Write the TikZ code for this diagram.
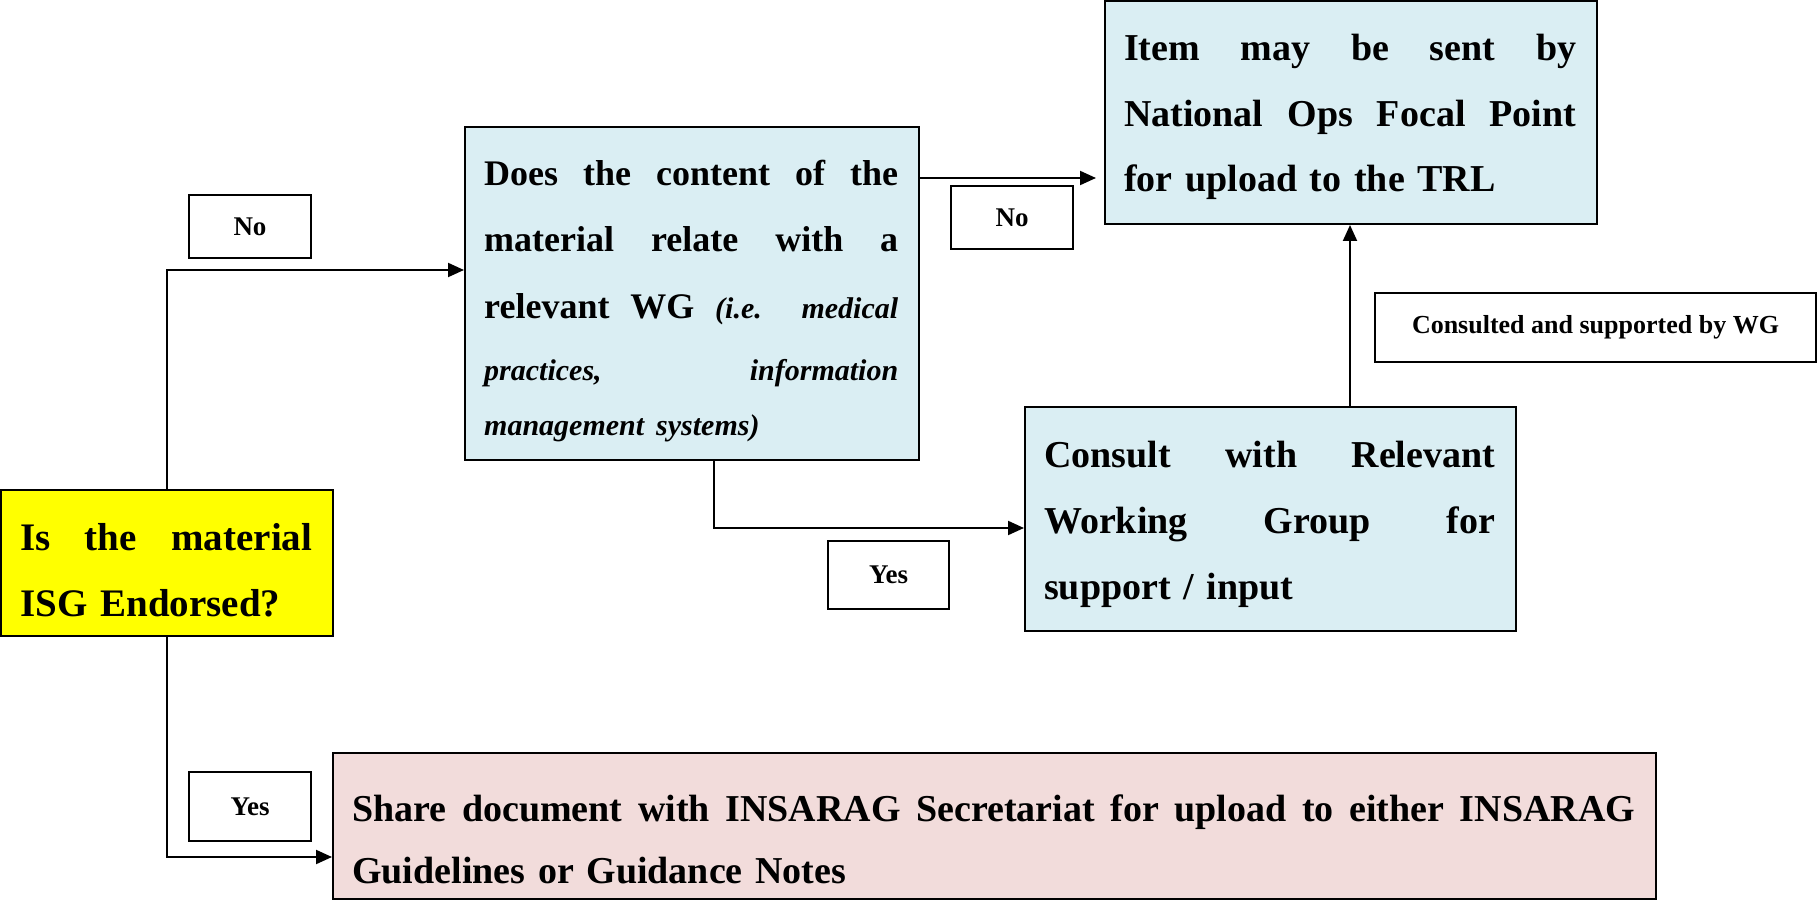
\documentclass[tikz,border=0pt]{standalone}
\usepackage{fontspec}
\setmainfont{Liberation Serif}
\usetikzlibrary{arrows.meta,calc}
\definecolor{boxblue}{HTML}{DAEEF3}
\definecolor{boxpink}{HTML}{F2DCDB}
\definecolor{boxyellow}{HTML}{FFFF00}
\newcommand{\jline}[2]{\makebox[#1][s]{\spaceskip=0pt\xspaceskip=0pt #2}}
\newcommand{\itpart}[1]{{\fontsize{30}{66}\selectfont\itshape #1}}
\begin{document}
\begin{tikzpicture}[x=1pt,y=-1pt,
  box/.style={draw=black,line width=2pt,inner sep=0pt},
  txt/.style={anchor=base west,inner sep=0pt,align=left},
  big/.style={font=\bfseries\fontsize{38}{66}\selectfont},
  lbl/.style={draw=black,line width=2pt,fill=white,inner sep=0pt,font=\bfseries\fontsize{27}{30}\selectfont},
  arr/.style={line width=2pt,-{Triangle[length=16pt,width=14pt]}}]
\useasboundingbox (0,0) rectangle (1818,901);

% boxes
\node[box,fill=boxyellow,minimum width=332pt,minimum height=146pt] (yellow) at (167,563) {};
\node[box,fill=boxblue,minimum width=454pt,minimum height=333pt] (q) at (692,293.5) {};
\node[box,fill=boxblue,minimum width=492pt,minimum height=223pt] (item) at (1351,112.5) {};
\node[box,fill=boxblue,minimum width=491pt,minimum height=224pt] (consult) at (1270.5,519) {};
\node[box,fill=boxpink,minimum width=1323pt,minimum height=146pt] (pink) at (994.5,826) {};

% box texts
\node[txt,big,text width=292pt,font=\bfseries\fontsize{39}{66}\selectfont] (yellowtxt) at ($(yellow.north west)+(20,61)$)
  {\jline{292pt}{Is the material}\\ISG Endorsed?};
\node[txt,text width=414pt,font=\bfseries\fontsize{36}{66}\selectfont] (qtxt) at ($(q.north west)+(20,60)$)
  {\jline{414pt}{Does the content of the}\\
   \jline{414pt}{material relate with a}\\[1pt]
   \jline{414pt}{relevant WG \itpart{(i.e. medical}}\\[-4pt]
   \jline{414pt}{\itpart{practices, information}}\\[-11pt]
   \itpart{management systems)}};
\node[txt,big,text width=452pt] (itemtxt) at ($(item.north west)+(20,61)$)
  {\jline{452pt}{Item may be sent by}\\
   \jline{452pt}{National Ops Focal Point}\\[-1pt]
   for upload to the TRL};
\node[txt,big,text width=451pt] (consulttxt) at ($(consult.north west)+(20,61)$)
  {\jline{451pt}{Consult with Relevant}\\
   \jline{451pt}{Working Group for}\\
   support / input};
\node[txt,big,text width=1283pt] (pinktxt) at ($(pink.north west)+(20,69)$)
  {\jline{1283pt}{Share document with INSARAG Secretariat for upload to either INSARAG}\\[-4pt]
   Guidelines or Guidance Notes};

% labels
\node[lbl,minimum width=122pt,minimum height=63pt] (no1) at (250,226.5) {No};
\node[lbl,minimum width=122pt,minimum height=63pt] (no2) at (1012,217.5) {No};
\node[lbl,minimum width=121pt,minimum height=68pt] (yes1) at (888.5,575) {Yes};
\node[lbl,minimum width=122pt,minimum height=69pt] (yes2) at (250,806.5) {Yes};
\node[lbl,minimum width=441pt,minimum height=69pt,font=\bfseries\fontsize{26}{30}\selectfont] (wg) at (1595.5,327.5) {Consulted and supported by WG};

% connectors
\coordinate (c1) at (167,270);
\coordinate (c2) at (167,857);
\coordinate (c3) at (919,178);
\coordinate (c4) at (714,528);
\coordinate (c5) at (1350,407);
\draw[arr] (yellow.north) |- (q.west |- c1);
\draw[arr] (yellow.south) |- (pink.west |- c2);
\draw[arr,shorten >=8pt] (q.east |- c3) -- (item.west |- c3);
\draw[arr] (q.south -| c4) |- (consult.west |- c4);
\draw[arr] (consult.north -| c5) -- (item.south -| c5);
\end{tikzpicture}
\end{document}
